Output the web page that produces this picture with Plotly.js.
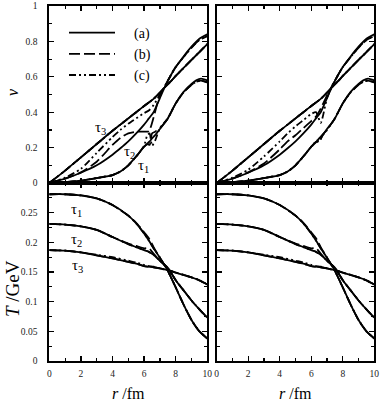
<!DOCTYPE html>
<html><head><meta charset="utf-8">
<script src="https://cdn.plot.ly/plotly-3.0.1.min.js"></script>
<style>html,body{margin:0;padding:0;background:#fff}#c{width:382px;height:401px}</style>
</head><body><div id="c"></div>
<script>
// ---- data: velocity v(r) ----
const rV = [0,1,2,3,4,4.5,5,5.5,6,6.3,6.6,7,7.3,7.7,8,8.5,9,9.5,10];
const v3a = [0,0.07,0.145,0.22,0.295,0.33,0.365,0.40,0.435,0.455,0.475,0.51,0.54,0.575,0.605,0.65,0.695,0.74,0.785];
const v2a = [0,0.025,0.058,0.10,0.16,0.196,0.235,0.28,0.33,0.365,0.40,0.48,0.54,0.61,0.655,0.715,0.77,0.815,0.84];
const v2bL = [0,0.025,0.06,0.12,0.215,0.255,0.28,0.29,0.29,0.292,0.37,0.50,0.545,0.61,0.655,0.712,0.765,0.808,0.83];
const v2cL = [0,0.03,0.08,0.17,0.26,0.30,0.335,0.365,0.395,0.41,0.44,0.50,0.545,0.61,0.655,0.712,0.765,0.808,0.83];
const v2bR = [0,0.025,0.06,0.11,0.19,0.235,0.27,0.31,0.35,0.375,0.42,0.495,0.545,0.61,0.655,0.712,0.765,0.808,0.83];
const v2cR = [0,0.03,0.075,0.15,0.235,0.28,0.32,0.355,0.39,0.40,0.34,0.48,0.545,0.61,0.655,0.712,0.765,0.808,0.83];
const rV1 = [0,1,2,3,4,4.5,5,5.5,6,6.2,6.35,6.5,6.7,7,7.5,8,8.5,9,9.3,9.6,10];
const v1a = [0,0.005,0.013,0.028,0.045,0.065,0.10,0.15,0.205,0.222,0.235,0.252,0.27,0.305,0.365,0.45,0.515,0.56,0.58,0.59,0.58];
const v1bL = [0,0.005,0.013,0.028,0.045,0.065,0.10,0.15,0.205,0.22,0.215,0.28,0.29,0.31,0.365,0.45,0.512,0.555,0.572,0.578,0.568];
const v1cL = [0,0.005,0.013,0.028,0.045,0.065,0.10,0.15,0.21,0.27,0.28,0.21,0.24,0.31,0.365,0.45,0.512,0.555,0.572,0.578,0.568];
const v1bR = [0,0.005,0.013,0.028,0.045,0.065,0.10,0.15,0.205,0.225,0.235,0.23,0.27,0.30,0.365,0.45,0.512,0.555,0.572,0.578,0.568];
const v1cR = [0,0.005,0.013,0.028,0.045,0.065,0.10,0.15,0.205,0.225,0.24,0.235,0.265,0.30,0.365,0.45,0.512,0.555,0.572,0.578,0.568];
// ---- data: temperature T(r) ----
const rT = [0,1,2,3,4,5,5.5,6,6.3,6.6,7,7.5,8,8.5,9,9.5,10];
const T1a = [0.281,0.281,0.279,0.274,0.263,0.245,0.232,0.215,0.203,0.190,0.174,0.152,0.124,0.095,0.069,0.050,0.038];
const T1b = [0.281,0.281,0.279,0.274,0.263,0.245,0.233,0.217,0.207,0.192,0.174,0.152,0.124,0.095,0.069,0.050,0.038];
const T2a = [0.231,0.230,0.227,0.221,0.209,0.197,0.192,0.187,0.184,0.179,0.169,0.157,0.136,0.119,0.102,0.087,0.073];
const T2b = [0.231,0.230,0.227,0.221,0.209,0.198,0.194,0.190,0.190,0.181,0.169,0.157,0.136,0.119,0.102,0.087,0.073];
const T3a = [0.187,0.186,0.183,0.178,0.173,0.167,0.164,0.160,0.159,0.158,0.156,0.153,0.149,0.145,0.141,0.136,0.129];
const T3c = [0.187,0.186,0.183,0.179,0.175,0.169,0.166,0.162,0.160,0.159,0.156,0.153,0.149,0.145,0.141,0.136,0.129];
const legendNames = ['\u00a0\u00a0\u00a0\u00a0(a)','\u00a0\u00a0\u00a0\u00a0(b)','\u00a0\u00a0\u00a0\u00a0(c)'];
const tauLabels = ['τ<sub>1</sub>','τ<sub>2</sub>','τ<sub>3</sub>'];

const dashes = ['solid','11px,4px','7px,3px,2px,3px,2px,3px'];
const traces = [];
function add(x,y,style,xa,ya,show){
  traces.push({x:x,y:y,type:'scatter',mode:'lines',xaxis:xa,yaxis:ya,
    line:{color:'#000',width:1.8,dash:dashes[style],shape:'spline',smoothing:0.6},
    name:legendNames[style],showlegend:!!show,hoverinfo:'skip'});
}
// top-left
add(rV,v3a,0,'x','y',true); add(rV,v3a,1,'x','y',true); add(rV,v3a,2,'x','y',true);
add(rV,v2a,0,'x','y'); add(rV,v2bL,1,'x','y'); add(rV,v2cL,2,'x','y');
add(rV1,v1a,0,'x','y'); add(rV1,v1bL,1,'x','y'); add(rV1,v1cL,2,'x','y');
// top-right
add(rV,v3a,0,'x2','y2'); add(rV,v3a,1,'x2','y2'); add(rV,v3a,2,'x2','y2');
add(rV,v2a,0,'x2','y2'); add(rV,v2bR,1,'x2','y2'); add(rV,v2cR,2,'x2','y2');
add(rV1,v1a,0,'x2','y2'); add(rV1,v1bR,1,'x2','y2'); add(rV1,v1cR,2,'x2','y2');
// bottom panels
['3','4'].forEach(k=>{
  const xa='x'+k, ya='y'+k;
  add(rT,T1a,0,xa,ya); add(rT,T1b,1,xa,ya); add(rT,T1a,2,xa,ya);
  add(rT,T2a,0,xa,ya); add(rT,T2b,1,xa,ya); add(rT,T2a,2,xa,ya);
  add(rT,T3a,0,xa,ya); add(rT,T3a,1,xa,ya); add(rT,T3c,2,xa,ya);
});

const W=382,H=401;
const px=v=>v/W, py=v=>1-v/H;
const tickFont={family:'Liberation Serif',size:9.5,color:'#222'};
function xax(dom,labels,anchor){
  return {domain:dom,anchor:anchor,range:[0,10],showline:true,linewidth:2,linecolor:'#000',mirror:'ticks',
    ticks:'inside',ticklen:5,tickwidth:1.3,tickcolor:'#000',tickvals:[0,2,4,6,8,10],ticktext:['0','2','4','6','8','10'],
    showticklabels:labels,tickfont:tickFont,ticklabelstandoff:3,showgrid:false,zeroline:false,fixedrange:true,
    minor:{tickvals:[1,3,5,7,9],ticks:'inside',ticklen:3,tickwidth:1.2,tickcolor:'#000',showgrid:false}};
}
function yax(dom,anchor,top,labels){
  const o={domain:dom,anchor:anchor,showline:true,linewidth:2,linecolor:'#000',mirror:'ticks',
    ticks:'inside',ticklen:5,tickwidth:1.3,tickcolor:'#000',showticklabels:labels,tickfont:tickFont,
    ticklabelstandoff:8,showgrid:false,zeroline:false,fixedrange:true};
  if(top){o.range=[0,1];o.tickvals=[0,0.2,0.4,0.6,0.8,1];o.ticktext=['0','0.2','0.4','0.6','0.8','1'];
    o.minor={tickvals:[0.1,0.3,0.5,0.7,0.9],ticks:'inside',ticklen:3,tickwidth:1.2,tickcolor:'#000',showgrid:false};}
  else{o.range=[0,0.3];o.tickvals=[0,0.05,0.1,0.15,0.2,0.25];o.ticktext=['0','0.05','0.1','0.15','0.2','0.25'];
    o.minor={tickvals:[0.025,0.075,0.125,0.175,0.225,0.275],ticks:'inside',ticklen:3,tickwidth:1.2,tickcolor:'#000',showgrid:false};}
  return o;
}
const dL=[px(49.3),px(207.3)], dR=[px(216.7),px(374.3)];
const dT=[py(183),py(6)], dB=[py(361),py(183)];
const lab=(t,x,y,size,ang)=>({text:t,xref:'paper',yref:'paper',x:px(x),y:py(y),showarrow:false,
  xanchor:'center',yanchor:'middle',textangle:ang||0,font:{family:'Liberation Serif',size:size,color:'#000'}});
const layout={width:W,height:H,margin:{l:0,r:0,t:0,b:0},paper_bgcolor:'#fff',plot_bgcolor:'#fff',
  showlegend:true,
  legend:{x:px(64),y:py(17),xanchor:'left',yanchor:'top',bgcolor:'rgba(0,0,0,0)',borderwidth:0,
    font:{family:'Liberation Serif',size:14,color:'#000'},itemwidth:46,tracegroupgap:0},
  xaxis:xax(dL,false,'y'), yaxis:yax(dT,'x',true,true),
  xaxis2:xax(dR,false,'y2'), yaxis2:yax(dT,'x2',true,false),
  xaxis3:xax(dL,true,'y3'), yaxis3:yax(dB,'x3',false,true),
  xaxis4:xax(dR,true,'y4'), yaxis4:yax(dB,'x4',false,false),
  annotations:[
    lab('<i>v</i>',12,92,16,-90),
    lab('<i>T</i>\u00a0/GeV',12,289,19,-90),
    lab('<i>r</i> /fm',128,393,16),
    lab('<i>r</i> /fm',295,393,16),
    lab(tauLabels[2],100,128,15), lab(tauLabels[1],129,152,15), lab(tauLabels[0],143,166,15),
    lab(tauLabels[0],76,210,15), lab(tauLabels[1],76,240,15), lab(tauLabels[2],77,266,15)
  ]};
Plotly.newPlot('c',traces,layout,{staticPlot:true,displayModeBar:false});
</script></body></html>
